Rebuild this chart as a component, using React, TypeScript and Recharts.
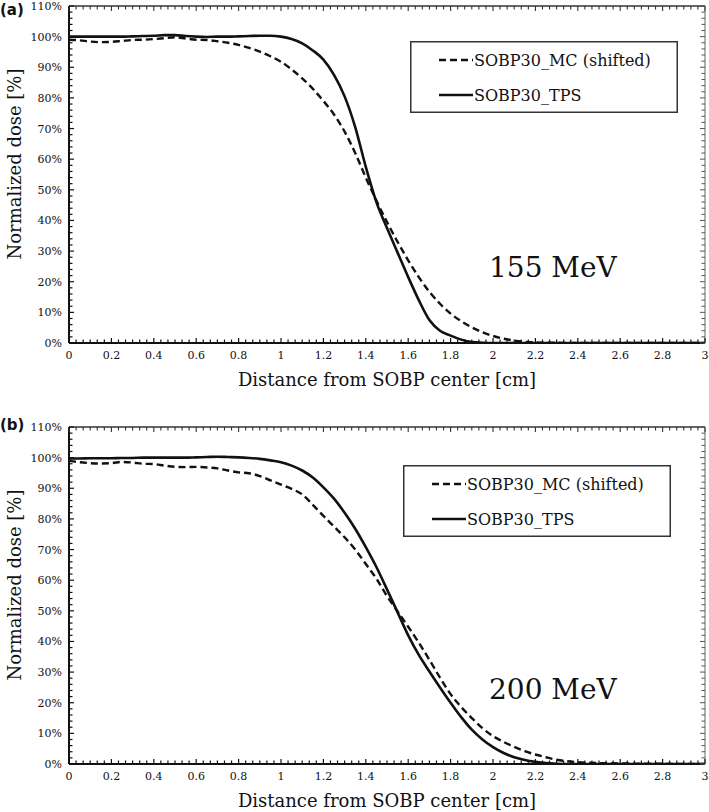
import React from "react";
import { LineChart, Line, XAxis, YAxis, Legend } from "recharts";

// distance from SOBP center [cm]
const distance = [
  0, 0.05, 0.1, 0.15, 0.2, 0.25, 0.3, 0.35, 0.4, 0.45,
  0.5, 0.55, 0.6, 0.65, 0.7, 0.75, 0.8, 0.85, 0.9, 0.95,
  1, 1.05, 1.1, 1.15, 1.2, 1.25, 1.3, 1.35, 1.4, 1.45,
  1.5, 1.55, 1.6, 1.65, 1.7, 1.75, 1.8, 1.85, 1.9, 1.95,
  2, 2.05, 2.1, 2.15, 2.2, 2.25, 2.3, 2.35, 2.4,
  2.5, 2.6, 2.7, 2.8, 2.9, 3,
];

// (a) 155 MeV
const mc155 = [
  99, 98.8, 98.4, 98.2, 98.3, 98.6, 98.9, 99, 99.2, 99.5,
  99.8, 99.4, 99, 98.9, 98.5, 98, 97.3, 96.3, 95.1, 93.6,
  91.8, 89.3, 86.4, 83, 79, 74.6, 69, 62, 54, 46.5,
  39.5, 33, 27, 21.5, 16.7, 12.8, 9.6, 7.1, 5.1, 3.5,
  2.3, 1.4, 0.8, 0.4, 0.2, 0.1, 0.1, 0, 0,
  0, 0, 0, 0, 0, 0,
];
const tps155 = [
  100, 100, 100, 100, 100, 100, 100.1, 100.2, 100.3, 100.5,
  100.5, 100.2, 100, 99.9, 100, 100, 100.1, 100.2, 100.3, 100.3,
  100, 99.2, 97.8, 95.5, 92.5, 87.5, 80.5, 70.5, 57.5, 46,
  37.5, 29.5, 21.5, 14, 7.5, 4, 2.4, 1.1, 0.3, 0.1,
  0, 0, 0, 0, 0, 0, 0, 0, 0,
  0, 0, 0, 0, 0, 0,
];

// (b) 200 MeV
const mc200 = [
  99, 98.5, 98.2, 98.1, 98.2, 98.6, 98.4, 98, 97.9, 97.4,
  97, 96.9, 97, 96.8, 96.5, 95.8, 95.2, 94.9, 94, 92.6,
  91.2, 89.8, 88, 84.6, 81, 77.5, 74, 70, 65.3, 60.5,
  54.8, 49.8, 44.8, 39.6, 34, 28.2, 22.8, 18.6, 15, 11.7,
  9.1, 7.2, 5.6, 4.2, 3.1, 2.2, 1.4, 0.9, 0.6,
  0.3, 0.2, 0.1, 0.1, 0, 0,
];
const tps200 = [
  99.7, 99.7, 99.8, 99.8, 99.8, 99.9, 99.9, 100, 100, 100,
  100, 100, 100.1, 100.2, 100.3, 100.2, 100.1, 99.9, 99.6, 99.1,
  98.5, 97.4, 95.8, 93.5, 90.3, 86.6, 82, 76.8, 70.8, 64.3,
  57, 49.5, 42, 35.6, 30.2, 25, 20, 15.3, 11.2, 8,
  5.5, 3.6, 2.2, 1.3, 0.7, 0.3, 0.1, 0, 0,
  0, 0, 0, 0, 0, 0,
];

const xMajorTicks = [0, 0.2, 0.4, 0.6, 0.8, 1, 1.2, 1.4, 1.6, 1.8, 2, 2.2, 2.4, 2.6, 2.8, 3];
const yMajorTicks = [0, 10, 20, 30, 40, 50, 60, 70, 80, 90, 100, 110];

const seriesNames = ["SOBP30_MC (shifted)", "SOBP30_TPS"];

const INK = "#111";
const SERIF = "'DejaVu Serif', serif";
const MC_DASH = "7 4";

function withMinor(major: number[], n: number) {
  const out: number[] = [];
  for (let i = 0; i < major.length - 1; i++) {
    const step = (major[i + 1] - major[i]) / n;
    for (let k = 0; k < n; k++) out.push(+(major[i] + k * step).toFixed(5));
  }
  out.push(major[major.length - 1]);
  return out;
}
const xTicks = withMinor(xMajorTicks, 6);
const yTicks = withMinor(yMajorTicks, 5);

const isMajor = (v: number, major: number[]) => major.some((m) => Math.abs(m - v) < 1e-6);

function BottomTick({ x, y, payload }: any) {
  const major = isMajor(payload.value, xMajorTicks);
  return (
    <g>
      <line x1={x} y1={y} x2={x} y2={y - (major ? 5 : 3.5)} stroke={INK} strokeWidth={1.2} />
      {major && (
        <text x={x} y={y + 16} textAnchor="middle" fontSize={11} fill={INK} fontFamily={SERIF}>
          {String(Math.round(payload.value * 10) / 10)}
        </text>
      )}
    </g>
  );
}

function TopTick({ x, y, payload }: any) {
  const major = isMajor(payload.value, xMajorTicks);
  return <line x1={x} y1={y} x2={x} y2={y + (major ? 5 : 3.5)} stroke="#333" strokeWidth={1.1} />;
}

function LeftTick({ x, y, payload }: any) {
  const major = isMajor(payload.value, yMajorTicks);
  return (
    <g>
      <line x1={x} y1={y} x2={x + (major ? 5 : 3.5)} y2={y} stroke={INK} strokeWidth={1.2} />
      {major && (
        <text x={x - 7} y={y} dy="0.36em" textAnchor="end" fontSize={11} fill={INK} fontFamily={SERIF}>
          {`${payload.value}%`}
        </text>
      )}
    </g>
  );
}

function RightTick({ x, y, payload }: any) {
  const major = isMajor(payload.value, yMajorTicks);
  return <line x1={x} y1={y} x2={x - (major ? 5 : 3.5)} y2={y} stroke="#555" strokeWidth={1} />;
}

function LegendBox() {
  return (
    <svg width={268} height={72} style={{ display: "block" }}>
      <rect x={0.75} y={0.75} width={266.5} height={70.5} fill="#fff" stroke="#333" strokeWidth={1.5} />
      <line x1={29} y1={19} x2={63} y2={19} stroke={INK} strokeWidth={2.4} strokeDasharray={MC_DASH} />
      <text x={64} y={19} dy="0.35em" fontSize={16} fill={INK} fontFamily={SERIF}>
        {seriesNames[0]}
      </text>
      <line x1={29} y1={54} x2={63} y2={54} stroke={INK} strokeWidth={2.6} />
      <text x={64} y={54} dy="0.35em" fontSize={16} fill={INK} fontFamily={SERIF}>
        {seriesNames[1]}
      </text>
    </svg>
  );
}

interface PanelProps {
  top: number;
  height: number;
  plotTop: number;
  xAxisHeight: number;
  mc: number[];
  tps: number[];
  panel: string;
  panelTop: number;
  energy: string;
  legendLeft: number;
  legendTop: number;
  energyTop: number;
}

function Panel(p: PanelProps) {
  const data = distance.map((x, i) => ({ x, mc: p.mc[i], tps: p.tps[i] }));
  const plotBottom = p.height - p.xAxisHeight;
  const plotMid = (p.plotTop + plotBottom) / 2;
  return (
    <div style={{ position: "absolute", left: 0, top: p.top, width: 709, height: p.height }}>
      <LineChart
        width={709}
        height={p.height}
        data={data}
        margin={{ top: p.plotTop - 1, right: 3, bottom: 0, left: 0 }}
      >
        <XAxis
          dataKey="x"
          type="number"
          domain={[0, 3]}
          allowDataOverflow
          ticks={xTicks}
          interval={0}
          height={p.xAxisHeight}
          tickSize={0}
          tickMargin={0}
          tickLine={false}
          tick={(t: any) => <BottomTick {...t} />}
          axisLine={{ stroke: INK, strokeWidth: 2 }}
        />
        <XAxis
          xAxisId="top"
          dataKey="x"
          orientation="top"
          type="number"
          domain={[0, 3]}
          allowDataOverflow
          ticks={xTicks}
          interval={0}
          height={1}
          tickSize={0}
          tickMargin={0}
          tickLine={false}
          tick={(t: any) => <TopTick {...t} />}
          axisLine={{ stroke: "#333", strokeWidth: 1.5 }}
        />
        <YAxis
          type="number"
          domain={[0, 110]}
          allowDataOverflow
          ticks={yTicks}
          interval={0}
          width={69}
          tickSize={0}
          tickMargin={0}
          tickLine={false}
          tick={(t: any) => <LeftTick {...t} />}
          axisLine={{ stroke: INK, strokeWidth: 2 }}
        />
        <YAxis
          yAxisId="right"
          dataKey="tps"
          orientation="right"
          type="number"
          domain={[0, 110]}
          allowDataOverflow
          ticks={yTicks}
          interval={0}
          width={1}
          tickSize={0}
          tickMargin={0}
          tickLine={false}
          tick={(t: any) => <RightTick {...t} />}
          axisLine={{ stroke: "#666", strokeWidth: 1 }}
        />
        <Line
          type="monotone"
          dataKey="mc"
          name={seriesNames[0]}
          stroke={INK}
          strokeWidth={2.4}
          strokeDasharray={MC_DASH}
          dot={false}
          isAnimationActive={false}
        />
        <Line
          type="monotone"
          dataKey="tps"
          name={seriesNames[1]}
          stroke={INK}
          strokeWidth={2.6}
          dot={false}
          isAnimationActive={false}
        />
        <Legend
          layout="vertical"
          align="center"
          verticalAlign="middle"
          wrapperStyle={{ left: p.legendLeft, top: p.legendTop, width: 268, height: 72 }}
          content={() => <LegendBox />}
        />
      </LineChart>

      <div
        style={{
          position: "absolute",
          left: 0,
          top: p.panelTop,
          fontFamily: "'DejaVu Sans', sans-serif",
          fontWeight: "bold",
          fontSize: 15,
          lineHeight: "18px",
          color: INK,
        }}
      >
        {p.panel}
      </div>
      <div
        style={{
          position: "absolute",
          left: 15,
          top: plotMid - 11,
          transform: "translate(-50%, -50%) rotate(-90deg)",
          whiteSpace: "nowrap",
          fontFamily: SERIF,
          fontSize: 18,
          lineHeight: "20px",
          color: INK,
        }}
      >
        Normalized dose [%]
      </div>
      <div
        style={{
          position: "absolute",
          left: 69,
          width: 636,
          top: plotBottom + 27,
          textAlign: "center",
          fontFamily: SERIF,
          fontSize: 18,
          lineHeight: "20px",
          color: INK,
        }}
      >
        Distance from SOBP center [cm]
      </div>
      <div
        style={{
          position: "absolute",
          left: 489,
          top: p.energyTop,
          fontFamily: SERIF,
          fontSize: 28,
          lineHeight: "32px",
          color: INK,
          whiteSpace: "nowrap",
        }}
      >
        {p.energy}
      </div>
    </div>
  );
}

export default function App() {
  return (
    <div style={{ position: "absolute", left: 0, top: 0, width: 709, height: 812, background: "#fff" }}>
      <Panel
        top={0}
        height={400}
        plotTop={6}
        xAxisHeight={57}
        mc={mc155}
        tps={tps155}
        panel="(a)"
        panelTop={1}
        energy="155 MeV"
        legendLeft={410}
        legendTop={41}
        energyTop={252}
      />
      <Panel
        top={400}
        height={412}
        plotTop={27}
        xAxisHeight={48}
        mc={mc200}
        tps={tps200}
        panel="(b)"
        panelTop={16}
        energy="200 MeV"
        legendLeft={403}
        legendTop={65}
        energyTop={274}
      />
    </div>
  );
}
